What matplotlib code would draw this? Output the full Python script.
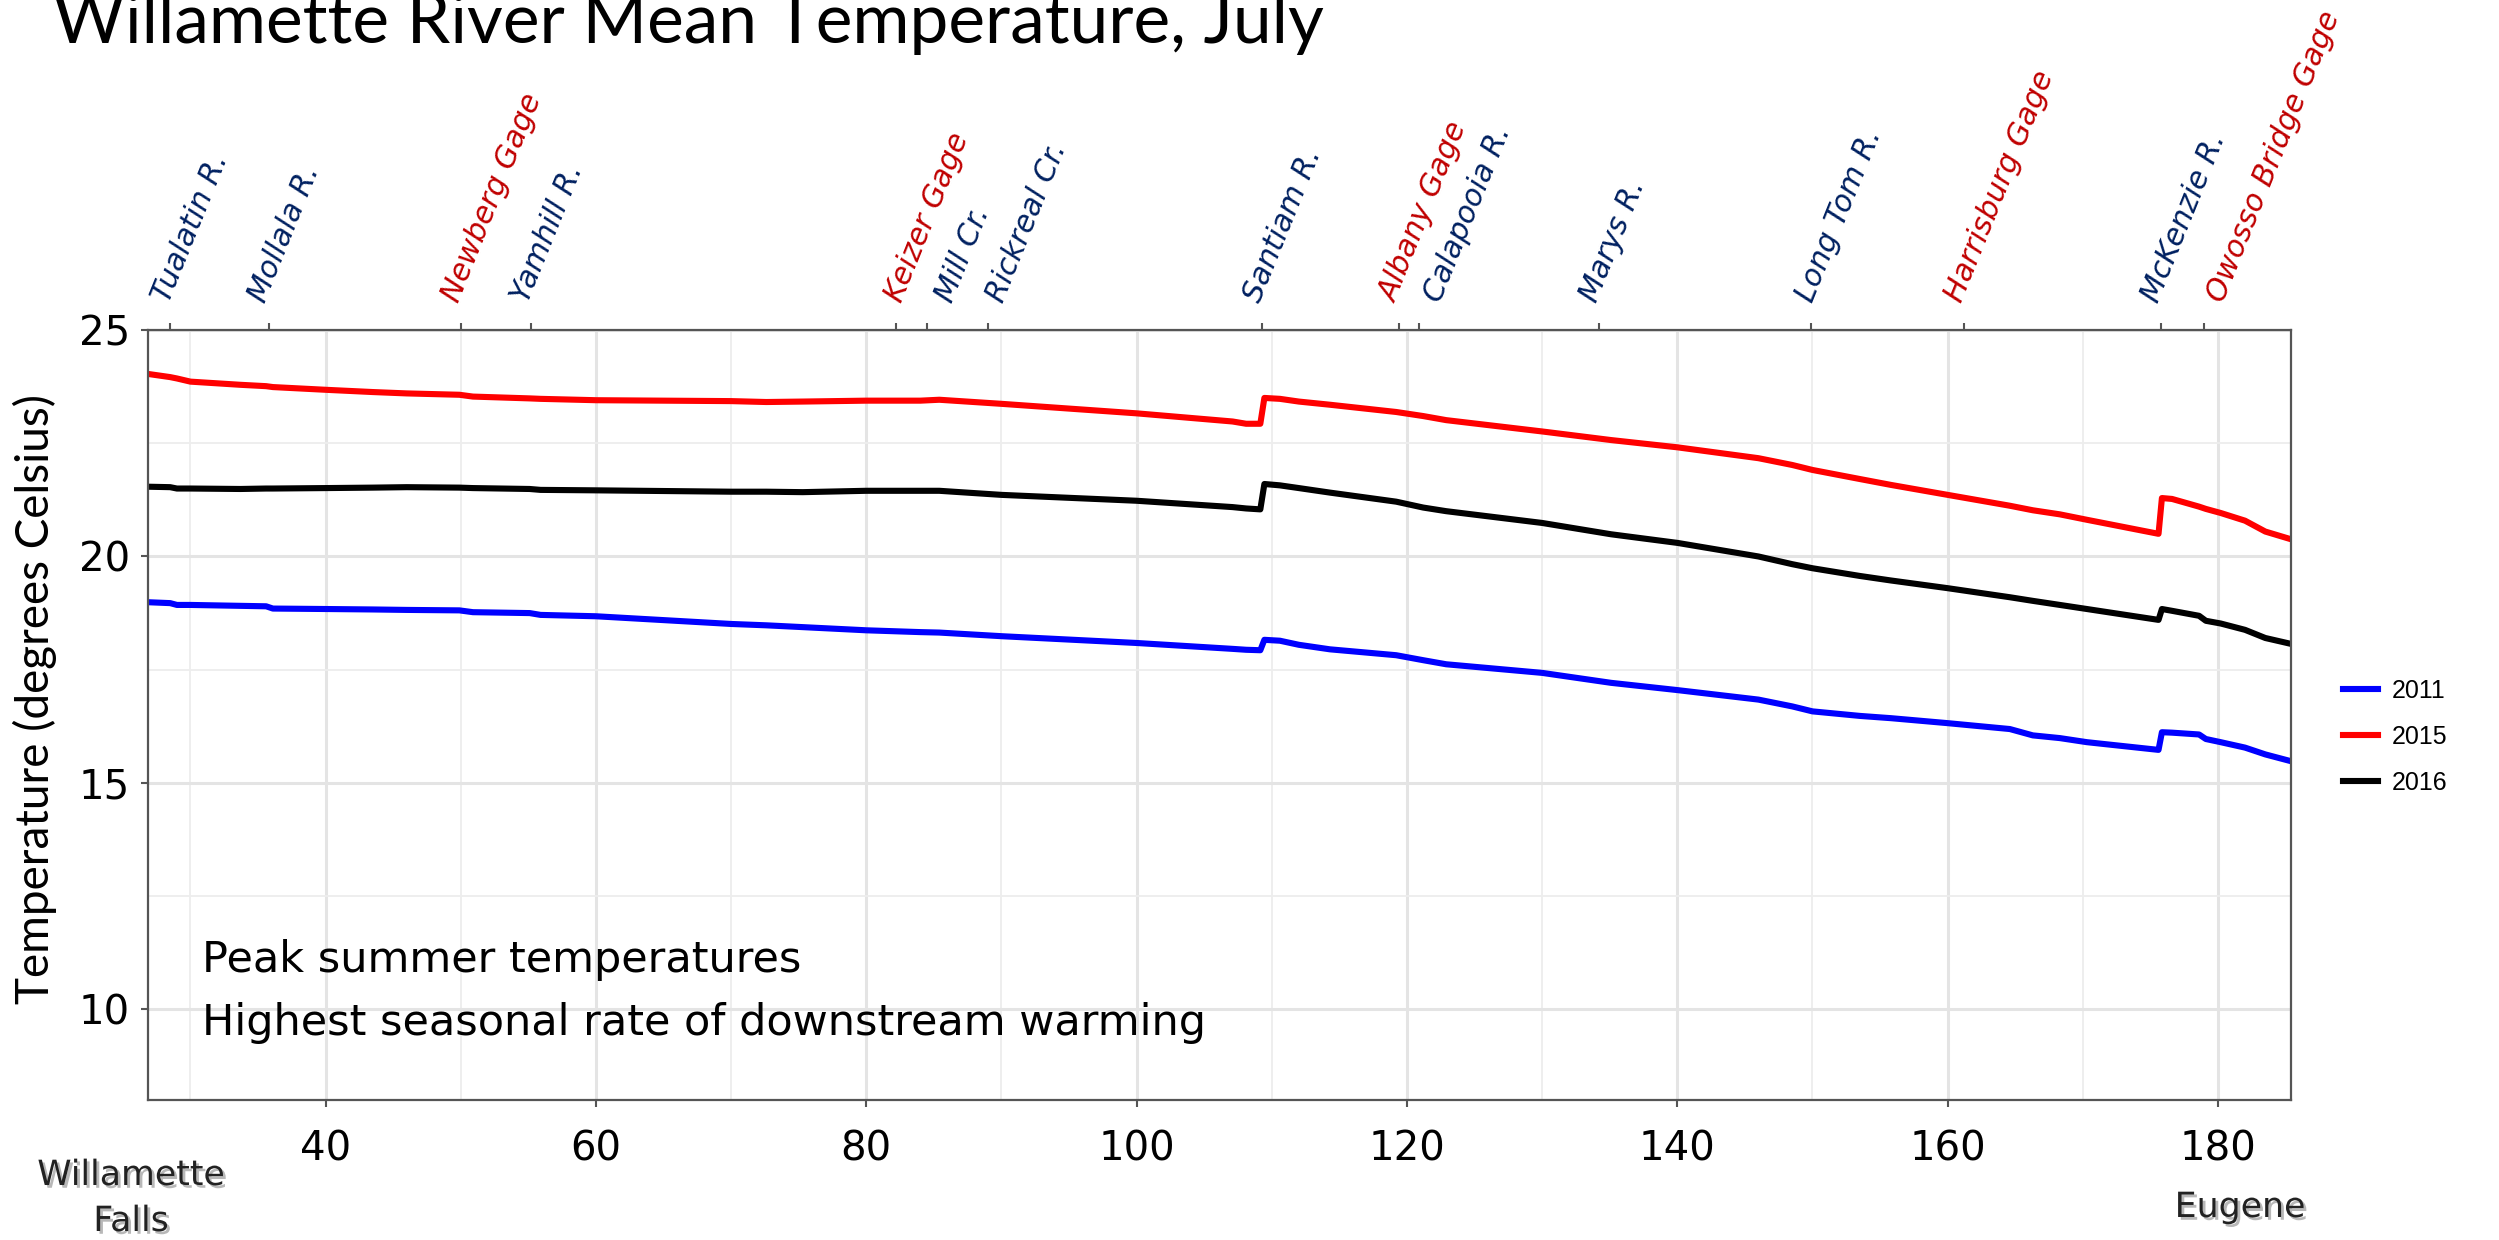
import matplotlib
matplotlib.use("Agg")
import matplotlib.pyplot as plt
import matplotlib.patheffects as pe
from matplotlib.ticker import MultipleLocator

# river mile (upstream distance) and July mean temperature by year
river_mile = [26.86, 28.5, 29.0, 30.0, 33.7, 35.6, 36.1, 40.0, 43.5, 46.0, 49.9, 50.9,
              55.1, 55.9, 60.0, 70.0, 72.6, 75.3, 80.0, 84.0, 85.4, 90.0, 100.0, 107.1,
              108.1, 109.15, 109.45, 110.6, 112.0, 114.3, 119.2, 121.2, 122.9, 130.0,
              135.1, 140.0, 146.0, 148.5, 150.0, 153.5, 155.8, 160.0, 164.6, 166.3,
              168.3, 170.3, 175.6, 175.85, 176.6, 178.6, 179.1, 180.2, 182.0, 183.5, 185.4]

temp_2011 = [18.99, 18.97, 18.93, 18.93, 18.91, 18.90, 18.85, 18.84, 18.83, 18.82, 18.81, 18.77,
             18.75, 18.71, 18.68, 18.51, 18.48, 18.44, 18.37, 18.33, 18.32, 18.24, 18.09, 17.96,
             17.94, 17.93, 18.16, 18.14, 18.05, 17.95, 17.82, 17.71, 17.62, 17.43,
             17.21, 17.05, 16.84, 16.69, 16.58, 16.48, 16.43, 16.32, 16.19, 16.05,
             15.99, 15.90, 15.73, 16.12, 16.11, 16.07, 15.97, 15.90, 15.78, 15.63, 15.48]

temp_2015 = [24.03, 23.96, 23.93, 23.86, 23.79, 23.76, 23.74, 23.68, 23.63, 23.60, 23.57, 23.53,
             23.49, 23.48, 23.45, 23.43, 23.41, 23.42, 23.44, 23.44, 23.46, 23.37, 23.16, 22.98,
             22.93, 22.93, 23.50, 23.48, 23.42, 23.35, 23.19, 23.10, 23.01, 22.76,
             22.57, 22.41, 22.17, 22.02, 21.91, 21.71, 21.58, 21.36, 21.12, 21.02,
             20.93, 20.81, 20.50, 21.29, 21.27, 21.10, 21.05, 20.96, 20.79, 20.55, 20.38]

temp_2016 = [21.54, 21.53, 21.50, 21.50, 21.49, 21.50, 21.50, 21.51, 21.52, 21.53, 21.52, 21.51,
             21.49, 21.47, 21.46, 21.43, 21.43, 21.42, 21.45, 21.45, 21.45, 21.36, 21.23, 21.09,
             21.06, 21.04, 21.60, 21.57, 21.51, 21.41, 21.21, 21.08, 21.00, 20.74,
             20.49, 20.30, 20.00, 19.83, 19.74, 19.57, 19.47, 19.30, 19.10, 19.02,
             18.93, 18.84, 18.60, 18.84, 18.80, 18.69, 18.58, 18.52, 18.38, 18.20, 18.07]

years = ["2011", "2015", "2016"]
line_colors = ["#0000FF", "#FF0000", "#000000"]

# tributaries (navy) and gages (red) along the top axis
site_names = ["Tualatin R.", "Mollala R.", "Newberg Gage", "Yamhill R.", "Keizer Gage",
              "Mill Cr.", "Rickreal Cr.", "Santiam R.", "Albany Gage", "Calapooia R.",
              "Marys R.", "Long Tom R.", "Harrisburg Gage", "McKenzie R.", "Owosso Bridge Gage"]
site_miles = [28.5, 35.8, 50.0, 55.2, 82.2, 84.5, 89.0, 109.3, 119.4, 120.9,
              134.2, 149.9, 161.2, 175.8, 179.0]
site_is_gage = [False, False, True, False, True, False, False, False, True, False,
                False, False, True, False, True]
# sideways nudge (points) so crowded names don't collide
label_nudge = [3, 1, 2, 2, 8, 22, 15, 2, 2, 19, 2, 5, 2, 2, 18]

fig = plt.figure(figsize=(24.99, 12.40), dpi=100)
ax = fig.add_axes([148 / 2499, 1 - 1100 / 1240, (2291 - 148) / 2499, (1100 - 330) / 1240])

for yr, temps, col in zip(years, [temp_2011, temp_2015, temp_2016], line_colors):
    ax.plot(river_mile, temps, color=col, lw=4.4, label=yr, solid_joinstyle="round")

ax.set_xlim(river_mile[0], river_mile[-1])
ax.set_ylim(8, 25)
ax.xaxis.set_minor_locator(MultipleLocator(10))
ax.yaxis.set_minor_locator(MultipleLocator(2.5))
ax.set_xticks([40, 60, 80, 100, 120, 140, 160, 180])
ax.set_yticks([10, 15, 20, 25])

ax.grid(which="major", color="#E4E4E4", lw=2.2)
ax.grid(which="minor", color="#EDEDED", lw=1.3)
ax.set_axisbelow(True)

for s in ax.spines.values():
    s.set_color("#555555")
    s.set_linewidth(1.6)

ax.tick_params(axis="both", which="major", direction="out", length=5, width=1.5,
               color="#555555", labelsize=29, labelcolor="black")
ax.tick_params(axis="x", which="major", pad=16)
ax.tick_params(axis="y", which="major", pad=8)
ax.tick_params(which="minor", length=0)

# site markers on the top edge
top = ax.secondary_xaxis("top")
top.set_xticks(site_miles)
top.set_xticklabels([""] * len(site_miles))
top.tick_params(length=5, width=1.5, color="#555555")
top.spines["top"].set_visible(False)

for name, rm, gage, dx in zip(site_names, site_miles, site_is_gage, label_nudge):
    ax.annotate(name, xy=(rm, 1.0), xycoords=("data", "axes fraction"),
                xytext=(dx, 17), textcoords="offset points",
                rotation=68, rotation_mode="anchor", ha="left", va="bottom",
                fontsize=21.5, style="oblique", family="DejaVu Sans",
                color="#C00000" if gage else "#002060")

# notes inside the panel
ax.text(0.0252, 0.182, "Peak summer temperatures", transform=ax.transAxes,
        fontsize=31, va="center", ha="left")
ax.text(0.0252, 0.100, "Highest seasonal rate of downstream warming", transform=ax.transAxes,
        fontsize=31, va="center", ha="left")

shadow = [pe.SimplePatchShadow(offset=(2, -2), shadow_rgbFace="#9A9A9A", alpha=0.7), pe.Normal()]
fig.text(131 / 2499, 1 - 1175 / 1240, "Willamette", ha="center", va="center",
         fontsize=25, color="#222222", path_effects=shadow)
fig.text(131 / 2499, 1 - 1221 / 1240, "Falls", ha="center", va="center",
         fontsize=25, color="#222222", path_effects=shadow)
fig.text(2240 / 2499, 1 - 1207 / 1240, "Eugene", ha="center", va="center",
         fontsize=25, color="#222222", path_effects=shadow)

fig.text(53 / 2499, 1 - 43 / 1240, "Willamette River Mean Temperature, July",
         ha="left", va="baseline", fontsize=50, family="Lato")
fig.text(35 / 2499, 1 - 699 / 1240, "Temperature (degrees Celsius)", rotation=90,
         ha="center", va="center", fontsize=33, family="Lato")

leg = ax.legend(loc="center left", bbox_to_anchor=(1.0243, 0.4714), frameon=False,
                prop={"family": "Liberation Sans", "size": 18}, handlelength=1.4,
                handletextpad=0.55, labelspacing=0.88, borderpad=0, borderaxespad=0)
for h in leg.legend_handles:
    h.set_linewidth(4.4)

fig.savefig("out.png", dpi=100)
